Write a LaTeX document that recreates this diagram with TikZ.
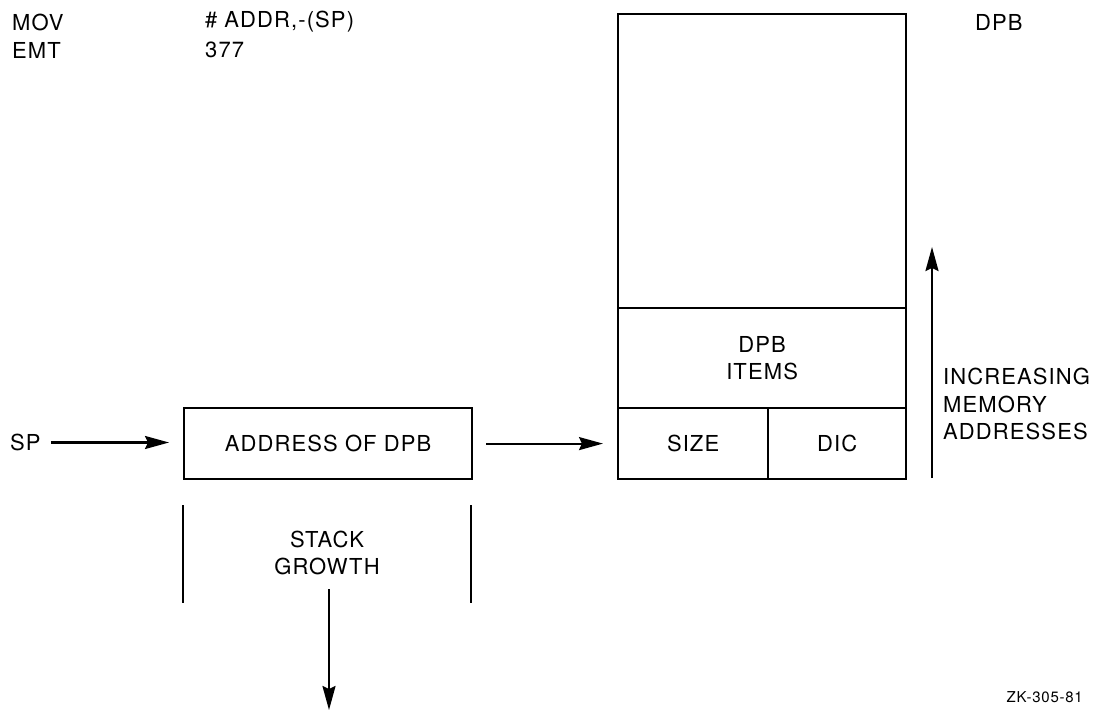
\documentclass[tikz,border=0pt]{standalone}
\usepackage{fontspec}
\setmainfont{TeX Gyre Heros}[LetterSpace=5]
\usetikzlibrary{arrows.meta}
\tikzset{
  every node/.style={font=\fontsize{22}{27.5}\selectfont},
  lbl/.style={inner sep=0pt},
  cell/.style={draw, line width=2.2pt, inner sep=0pt, anchor=north west},
  conn/.style={line width=2.2pt, -{Stealth[length=24pt,width=13pt,inset=3pt]}},
  bar/.style={line width=2.2pt},
}
\begin{document}
\begin{tikzpicture}[x=1pt,y=-1pt]
\useasboundingbox (0,0) rectangle (1100,711);
% code lines
\node[lbl,anchor=west] (mov) at (12,22) {MOV};
\node[lbl,anchor=west] (emt) at (12,50) {EMT};
\node[lbl,anchor=west] (addr1) at (205,22) {\#\hspace{7pt}ADDR,-(SP)};
\node[lbl,anchor=west] (n377) at (205,50) {377};
\node[lbl,anchor=west] (dpblbl) at (975,22) {DPB};
% DPB block
\node[cell, minimum width=288pt, minimum height=294pt] (dpbtop) at (617,13) {};
\node[cell, minimum width=288pt, minimum height=100pt, align=center] (items) at (617,307) {DPB\\ITEMS};
\node[cell, minimum width=150pt, minimum height=71pt] (size) at (617,407) {SIZE};
\node[cell, minimum width=138pt, minimum height=71pt] (dic) at (767,407) {DIC};
% stack
\node[lbl,anchor=west] (sp) at (10,442.5) {SP};
\node[cell, minimum width=288pt, minimum height=71pt] (addr) at (183,407) {ADDRESS OF DPB};
\draw[conn, shorten <=10pt, shorten >=14pt] (sp.east) -- (sp.east -| addr.west);
\draw[conn, shorten <=13pt, shorten >=14pt] (addr.east) -- (addr.east -| size.west);
% stack growth
\coordinate (sl1) at (183,505); \coordinate (sl2) at (183,603);
\coordinate (sr1) at (471,505); \coordinate (sr2) at (471,603);
\draw[bar] (sl1) -- (sl2);
\draw[bar] (sr1) -- (sr2);
\node[lbl, align=center] (growth) at (327,553) {STACK\\GROWTH};
\coordinate (g1) at (329,589); \coordinate (g2) at (329,710);
\draw[conn] (g1) -- (g2);
% increasing memory
\coordinate (m1) at (932,478); \coordinate (m2) at (932,247);
\draw[conn] (m1) -- (m2);
\node[lbl, anchor=west, align=left] (incr) at (943,404) {INCREASING\\MEMORY\\ADDRESSES};
% figure id
\node[lbl, anchor=east, font=\fontsize{15}{18}\selectfont] (zk) at (1083,697) {ZK-305-81};
\end{tikzpicture}
\end{document}
